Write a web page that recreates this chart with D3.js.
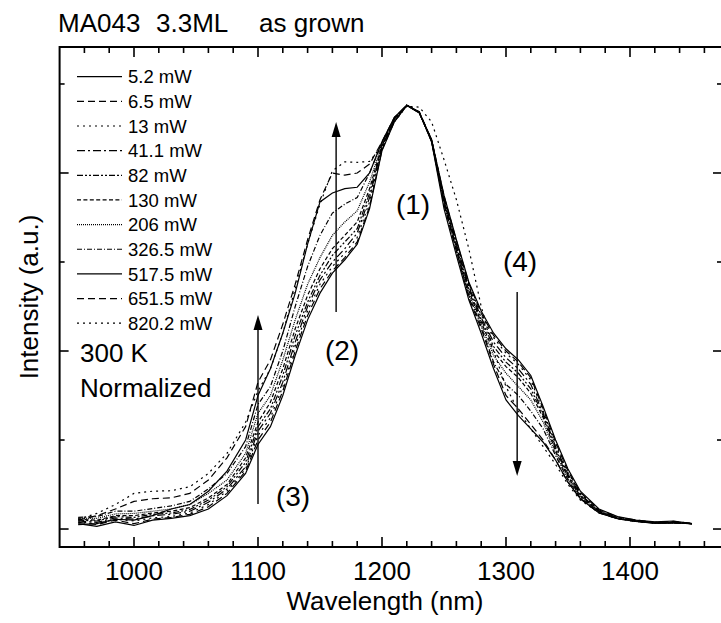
<!DOCTYPE html>
<html><head><meta charset="utf-8">
<script src="https://cdn.jsdelivr.net/npm/d3@7"></script>
<style>
html,body{margin:0;padding:0;background:#fff;}
svg{display:block;font-family:"Liberation Sans",Arial,sans-serif;}
</style></head>
<body><svg id="chart" width="721" height="623"></svg>
<script>
// ---- data ----
const wavelengths = [955,970,985,1000,1015,1030,1045,1060,1075,1090,1100,1110,1120,1130,1140,1150,1160,1170,1180,1190,1200,1210,1220,1230,1240,1250,1260,1270,1280,1290,1300,1310,1320,1330,1340,1350,1360,1375,1390,1405,1420,1435,1450];
const powers = ["5.2 mW","6.5 mW","13 mW","41.1 mW","82 mW","130 mW","206 mW","326.5 mW","517.5 mW","651.5 mW","820.2 mW"];
const p5_2   = [0.012,0.006,0.016,0.008,0.020,0.024,0.030,0.045,0.075,0.125,0.19,0.23,0.30,0.39,0.47,0.53,0.575,0.605,0.64,0.72,0.85,0.915,0.952,0.935,0.875,0.75,0.65,0.555,0.49,0.44,0.405,0.38,0.345,0.275,0.20,0.135,0.085,0.045,0.028,0.020,0.016,0.018,0.012];
const p6_5   = [0.015,0.010,0.020,0.012,0.022,0.026,0.033,0.050,0.080,0.130,0.20,0.24,0.31,0.40,0.48,0.54,0.58,0.61,0.645,0.725,0.852,0.916,0.952,0.935,0.875,0.748,0.648,0.552,0.485,0.435,0.40,0.375,0.34,0.27,0.195,0.13,0.082,0.043,0.027,0.020,0.015,0.017,0.013];
const p13    = [0.016,0.012,0.022,0.018,0.025,0.028,0.036,0.055,0.085,0.135,0.21,0.25,0.32,0.41,0.49,0.55,0.59,0.62,0.655,0.735,0.855,0.918,0.952,0.936,0.874,0.745,0.645,0.55,0.48,0.43,0.395,0.37,0.335,0.265,0.19,0.127,0.08,0.042,0.026,0.019,0.015,0.016,0.012];
const p41_1  = [0.018,0.015,0.025,0.022,0.030,0.033,0.040,0.060,0.090,0.140,0.22,0.26,0.33,0.42,0.50,0.56,0.60,0.63,0.665,0.745,0.858,0.92,0.952,0.936,0.873,0.742,0.64,0.545,0.475,0.42,0.385,0.36,0.325,0.26,0.185,0.123,0.078,0.041,0.025,0.018,0.014,0.015,0.012];
const p82    = [0.020,0.018,0.028,0.026,0.033,0.036,0.044,0.065,0.095,0.150,0.23,0.27,0.345,0.435,0.51,0.57,0.615,0.645,0.675,0.755,0.86,0.92,0.952,0.936,0.872,0.74,0.635,0.54,0.47,0.41,0.375,0.35,0.315,0.255,0.18,0.12,0.076,0.04,0.024,0.018,0.014,0.015,0.012];
const p130   = [0.022,0.020,0.030,0.030,0.036,0.040,0.048,0.070,0.100,0.160,0.24,0.285,0.36,0.45,0.525,0.585,0.63,0.66,0.69,0.765,0.862,0.922,0.952,0.937,0.872,0.738,0.632,0.535,0.465,0.40,0.365,0.34,0.305,0.25,0.175,0.117,0.074,0.039,0.024,0.018,0.014,0.015,0.012];
const p206   = [0.024,0.024,0.034,0.035,0.040,0.045,0.055,0.080,0.110,0.170,0.26,0.30,0.38,0.47,0.55,0.61,0.66,0.69,0.715,0.78,0.865,0.923,0.952,0.937,0.871,0.735,0.628,0.53,0.46,0.39,0.35,0.32,0.29,0.24,0.17,0.113,0.072,0.038,0.023,0.017,0.014,0.014,0.012];
const p326_5 = [0.026,0.028,0.040,0.040,0.046,0.052,0.062,0.090,0.125,0.185,0.28,0.32,0.40,0.50,0.59,0.66,0.71,0.73,0.745,0.80,0.868,0.924,0.952,0.937,0.87,0.73,0.625,0.525,0.455,0.375,0.325,0.30,0.265,0.225,0.165,0.11,0.07,0.037,0.023,0.017,0.013,0.014,0.012];
const p517_5 = [0.010,0.012,0.022,0.020,0.030,0.045,0.055,0.085,0.130,0.200,0.30,0.36,0.44,0.53,0.64,0.735,0.755,0.765,0.768,0.80,0.87,0.925,0.952,0.937,0.87,0.72,0.615,0.515,0.44,0.36,0.29,0.255,0.225,0.195,0.155,0.105,0.068,0.036,0.023,0.017,0.013,0.014,0.012];
const p651_5 = [0.020,0.030,0.045,0.062,0.068,0.070,0.080,0.110,0.160,0.230,0.33,0.38,0.46,0.55,0.65,0.74,0.80,0.795,0.80,0.82,0.87,0.925,0.952,0.938,0.875,0.73,0.625,0.52,0.45,0.37,0.30,0.27,0.235,0.20,0.155,0.105,0.068,0.036,0.023,0.017,0.013,0.014,0.012];
const p820_2 = [0.022,0.035,0.055,0.080,0.085,0.086,0.095,0.125,0.170,0.240,0.31,0.36,0.44,0.54,0.64,0.73,0.805,0.825,0.824,0.826,0.862,0.915,0.95,0.948,0.915,0.83,0.74,0.63,0.50,0.40,0.32,0.265,0.225,0.185,0.145,0.10,0.065,0.037,0.024,0.018,0.014,0.015,0.012];
const seriesValues = [p5_2,p6_5,p13,p41_1,p82,p130,p206,p326_5,p517_5,p651_5,p820_2];
const xMajorTicks = [1000,1100,1200,1300,1400];
const yTicks = [0,0.2,0.4,0.6,0.8,1.0];
const titleParts = ["MA043","3.3ML","as grown"];

// ---- styles ----
const dashes = [null,"7,4","2,4","8,3,2,3","6,2,2,2,2,2","4,2.4","1,1","5,2,1,2",null,"7,4","2,4"];

const svg = d3.select("#chart");
const pL = 59.6, pR = 722, pT = 47, pB = 547;
const x = d3.scaleLinear().domain([940, 940 + (pR-pL)/1.24]).range([pL, pR]);
const y = d3.scaleLinear().domain([-0.0404, 1.0831]).range([pB, pT]);

// frame
svg.append("rect").attr("x",pL).attr("y",pT).attr("width",pR-pL).attr("height",pB-pT)
  .attr("fill","none").attr("stroke","#000").attr("stroke-width",2);

// ticks
const xMinor = d3.range(960, 1471, 20).filter(v => v % 100 !== 0);
const g = svg.append("g").attr("stroke","#000").attr("stroke-width",1.6);
xMajorTicks.forEach(v => {
  g.append("line").attr("x1",x(v)).attr("x2",x(v)).attr("y1",pB).attr("y2",pB-10);
  g.append("line").attr("x1",x(v)).attr("x2",x(v)).attr("y1",pT).attr("y2",pT+10);
});
xMinor.forEach(v => {
  g.append("line").attr("x1",x(v)).attr("x2",x(v)).attr("y1",pB).attr("y2",pB-6);
  g.append("line").attr("x1",x(v)).attr("x2",x(v)).attr("y1",pT).attr("y2",pT+6);
});
yTicks.forEach((v,i) => {
  const len = (i % 2 === 0) ? 9 : 5;
  g.append("line").attr("x1",pL).attr("x2",pL+len).attr("y1",y(v)).attr("y2",y(v));
  g.append("line").attr("x1",pR).attr("x2",pR-len).attr("y1",y(v)).attr("y2",y(v));
});
svg.append("g").selectAll("text").data(xMajorTicks).join("text")
  .attr("x",d=>x(d)).attr("y",580).attr("text-anchor","middle")
  .attr("font-size",26).text(d=>d);

// axis titles
svg.append("text").attr("x",385).attr("y",610).attr("text-anchor","middle").attr("font-size",26).text("Wavelength (nm)");
svg.append("text").attr("transform","translate(38,297) rotate(-90)").attr("text-anchor","middle").attr("font-size",26).text("Intensity (a.u.)");
const titleX = [58,156,259];
svg.append("text").attr("y",32).attr("font-size",26).selectAll("tspan").data(titleParts).join("tspan")
  .attr("x",(d,i)=>titleX[i]).text(d=>d);

// curves
const line = d3.line().x((d,i)=>x(wavelengths[i])).y(d=>y(d));
seriesValues.forEach((vals,k) => {
  svg.append("path").attr("d",line(vals)).attr("fill","none").attr("stroke","#000")
    .attr("stroke-width",1.2).attr("stroke-dasharray",dashes[k]);
});

// legend
powers.forEach((p,k) => {
  const yy = 76.7 + k*24.65;
  svg.append("line").attr("x1",77).attr("x2",122).attr("y1",yy).attr("y2",yy)
    .attr("stroke","#000").attr("stroke-width",1.2).attr("stroke-dasharray",dashes[k]);
  svg.append("text").attr("x",128).attr("y",yy+6.6).attr("font-size",18.5).text(p);
});

svg.append("text").attr("x",80).attr("y",362).attr("font-size",26).text("300 K");
svg.append("text").attr("x",80).attr("y",397).attr("font-size",26).text("Normalized");

// arrows
function arrow(xv, y1, y2) {
  const dir = y2 < y1 ? -1 : 1;
  svg.append("line").attr("x1",xv).attr("x2",xv).attr("y1",y1).attr("y2",y2 - dir*12)
    .attr("stroke","#000").attr("stroke-width",1.4);
  svg.append("path").attr("d",`M${xv},${y2} L${xv-4.5},${y2-dir*15} L${xv+4.5},${y2-dir*15} Z`).attr("fill","#000");
}
arrow(x(1163), 312, 122);
arrow(x(1100), 504, 315);
arrow(x(1309), 292, 476);

svg.append("text").attr("x",413).attr("y",214).attr("text-anchor","middle").attr("font-size",28).text("(1)");
svg.append("text").attr("x",342).attr("y",360).attr("text-anchor","middle").attr("font-size",28).text("(2)");
svg.append("text").attr("x",293).attr("y",506).attr("text-anchor","middle").attr("font-size",28).text("(3)");
svg.append("text").attr("x",520).attr("y",271).attr("text-anchor","middle").attr("font-size",28).text("(4)");
</script></body></html>
